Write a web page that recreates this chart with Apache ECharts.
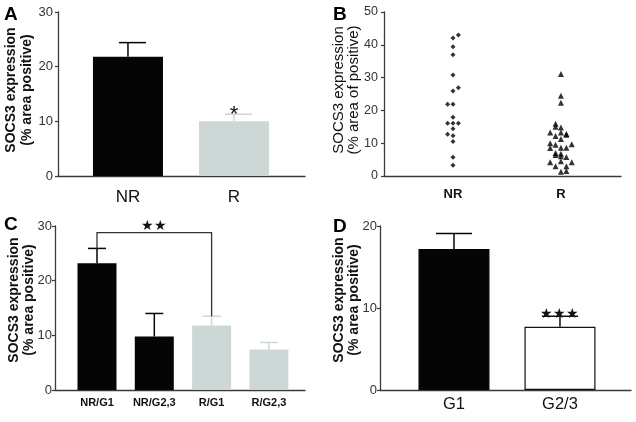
<!DOCTYPE html>
<html><head><meta charset="utf-8">
<script src="https://cdn.jsdelivr.net/npm/echarts@6/dist/echarts.min.js"></script>
<style>html,body{margin:0;padding:0;background:#fff}#c{width:636px;height:422px}</style>
</head><body><div id="c"></div>
<script>
// ---- Data ----
// Panel A
const catsA = ['NR', 'R'];
const meanA = [21.8, 10.0];
const upperA = [24.4, 11.3];
const starsA = ['', '*'];
// Panel B (individual values, jitter offsets in category units)
const catsB = ['NR', 'R'];
const nrValsB = [43.0, 42.1, 39.4, 37.0, 30.8, 26.9, 25.9, 21.9, 21.9, 17.9, 16.1, 16.1, 16.1, 14.4, 12.7, 12.3, 10.5, 5.7, 3.3];
const nrJitB  = [0.05, 0, 0, 0, 0, 0.05, 0, -0.05, 0, 0, -0.05, 0, 0.05, 0, -0.05, 0, 0, 0, 0];
const rValsB = [31.1, 24.5, 22.3, 15.9, 15.0, 14.8, 13.3, 13.3, 12.8, 12.2, 12.6, 11.3, 10.0, 9.5, 9.7, 8.5, 8.6, 8.6, 7.0, 6.4, 6.8, 5.8, 4.2, 4.5, 4.2, 3.0, 3.0, 1.3, 1.5, 6.0];
const rJitB  = [0, 0, 0, -0.05, -0.05, 0, -0.1, 0, 0.05, -0.05, 0.05, 0, -0.1, -0.05, 0.1, -0.1, 0, 0.05, -0.05, -0.05, 0, 0.05, -0.1, 0, 0.1, -0.05, 0.05, 0, 0.05, 0];
// Panel C
const catsC = ['NR/G1', 'NR/G2,3', 'R/G1', 'R/G2,3'];
const meanC = [23.2, 9.8, 11.8, 7.4];
const upperC = [25.9, 14.0, 13.5, 8.7];
const bracketC = [0, 2, 28.8, 25.9, 13.5]; // from cat 0 to cat 2, top, left foot, right foot
const bracketStarsC = '★★';
// Panel D
const catsD = ['G1', 'G2/3'];
const meanD = [17.2, 7.7];
const upperD = [19.1, 9.0];
const starsD = ['', '★★★'];
// Tick values
const ticksA = [0, 10, 20, 30];
const ticksB = [0, 10, 20, 30, 40, 50];
const ticksC = [0, 10, 20, 30];
const ticksD = [0, 10, 20];

// ---- Styles ----
const FONT = 'Liberation Sans, Arial, sans-serif';
const BLACK = '#050505';
const LIGHT = '#cdd8d6';
const AXIS = '#3a3a3a';

function idx(arr) { return arr.map((_, i) => i); }

function xAxisFor(grid, cats, min, max, fs, bold, margin) {
  return {
    type: 'value', gridIndex: grid, min: min, max: max,
    axisLine: { show: true, onZero: false, lineStyle: { color: AXIS, width: 1.3 } },
    axisTick: { show: false }, splitLine: { show: false },
    axisLabel: { customValues: idx(cats), formatter: v => cats[Math.round(v)] || '',
      fontFamily: FONT, fontSize: fs, fontWeight: bold ? 'bold' : 'normal', color: '#111', margin: margin }
  };
}
function yAxisFor(grid, ticks, name, nameFs, nameBold, lh, gap, pad, labelFs, labelMargin) {
  return {
    type: 'value', gridIndex: grid, min: ticks[0], max: ticks[ticks.length - 1], interval: ticks[1] - ticks[0],
    axisLine: { show: true, onZero: false, lineStyle: { color: AXIS, width: 1.3 } },
    axisTick: { show: true, length: 3, lineStyle: { color: AXIS, width: 1.2 } },
    splitLine: { show: false },
    axisLabel: { fontFamily: FONT, fontSize: labelFs, color: '#333', margin: labelMargin },
    name: name, nameLocation: 'middle', nameRotate: 90, nameGap: gap, nameMoveOverlap: false,
    nameTextStyle: { fontFamily: FONT, fontSize: nameFs, fontWeight: nameBold ? 'bold' : 'normal', color: '#111', lineHeight: lh, padding: pad }
  };
}

function errSeries(xi, yi, means, uppers, colors, capL, capR, stars, starFs, starDy) {
  return {
    type: 'custom', xAxisIndex: xi, yAxisIndex: yi, z: 3,
    data: means.map((m, i) => [i, m, uppers[i]]),
    encode: { x: 0, y: [1, 2] },
    renderItem: function (params, api) {
      const i = params.dataIndex;
      const x = api.value(0), m = api.value(1), u = api.value(2);
      const p0 = api.coord([x, m]), p1 = api.coord([x, u]);
      const c = colors[i];
      const ch = [
        { type: 'line', shape: { x1: p0[0], y1: p0[1], x2: p1[0], y2: p1[1] }, style: { stroke: c, lineWidth: 1.5 } },
        { type: 'line', shape: { x1: p1[0] - capL, y1: p1[1], x2: p1[0] + capR, y2: p1[1] }, style: { stroke: c, lineWidth: 1.5 } }
      ];
      if (stars && stars[i]) {
        ch.push({ type: 'text', x: p1[0], y: p1[1] + starDy,
          style: { text: stars[i], font: starFs + 'px ' + FONT, fill: '#111', align: 'center', verticalAlign: 'bottom' } });
      }
      return { type: 'group', children: ch };
    }
  };
}

function barSeries(xi, yi, means, colors, width, borders) {
  return {
    type: 'bar', xAxisIndex: xi, yAxisIndex: yi, barWidth: width, z: 2,
    data: means.map((m, i) => ({ value: [i, m], itemStyle: { color: colors[i],
      borderColor: borders ? borders[i] : colors[i], borderWidth: borders ? 1.2 : 0 } }))
  };
}

const chart = echarts.init(document.getElementById('c'), null, { renderer: 'canvas' });

const NAME1 = 'SOCS3 expression\n(% area positive)';
const NAME2 = 'SOCS3 expression\n(% area of positive)';

const option = {
  backgroundColor: '#fff',
  animation: false,
  grid: [
    { left: 58, top: 12, width: 247, height: 164 },
    { left: 384, top: 12, width: 237, height: 164 },
    { left: 55, top: 226, width: 250, height: 164 },
    { left: 380, top: 226, width: 251, height: 164 }
  ],
  xAxis: [
    xAxisFor(0, catsA, -0.660, 1.670, 17, false, 13),
    xAxisFor(1, catsB, -0.639, 1.556, 13, true, 12),
    xAxisFor(2, catsC, -0.733, 3.63, 11, true, 7),
    xAxisFor(3, catsD, -0.698, 1.670, 16.5, false, 6)
  ],
  yAxis: [
    yAxisFor(0, ticksA, NAME1, 14, true, 16, 23, [0, 0, 0, 8], 13, 5),
    yAxisFor(1, ticksB, NAME2, 15, false, 15, 22.5, [0, 0, 0, 8], 12.5, 6),
    yAxisFor(2, ticksC, NAME1, 14, true, 15, 18, [0, 0, 0, 16], 13, 3),
    yAxisFor(3, ticksD, NAME1, 14, true, 15, 18.5, [0, 0, 0, 16], 13, 3)
  ],
  graphic: [
    { type: 'text', left: 4, top: 5, style: { text: 'A', font: 'bold 19px ' + FONT, fill: '#000' } },
    { type: 'text', left: 333, top: 5, style: { text: 'B', font: 'bold 19px ' + FONT, fill: '#000' } },
    { type: 'text', left: 4, top: 215, style: { text: 'C', font: 'bold 19px ' + FONT, fill: '#000' } },
    { type: 'text', left: 333, top: 217, style: { text: 'D', font: 'bold 19px ' + FONT, fill: '#000' } }
  ],
  series: [
    // A
    barSeries(0, 0, meanA, [BLACK, LIGHT], 70),
    errSeries(0, 0, meanA, upperA, [BLACK, LIGHT], 9, 18, starsA, 22, 12),
    // B
    { type: 'scatter', xAxisIndex: 1, yAxisIndex: 1, symbol: 'diamond', symbolSize: 5,
      itemStyle: { color: '#000' }, data: nrValsB.map((v, i) => [0 + nrJitB[i], v]) },
    { type: 'scatter', xAxisIndex: 1, yAxisIndex: 1, symbol: 'triangle', symbolSize: 6,
      itemStyle: { color: '#000' }, data: rValsB.map((v, i) => [1 + rJitB[i], v]) },
    // C
    barSeries(2, 2, meanC, [BLACK, BLACK, LIGHT, LIGHT], 39),
    errSeries(2, 2, meanC, upperC, [BLACK, BLACK, LIGHT, LIGHT], 9, 9, null, 0, 0),
    {
      type: 'custom', xAxisIndex: 2, yAxisIndex: 2, z: 4,
      data: [bracketC], encode: { x: [0, 1], y: [2, 3, 4] },
      renderItem: function (params, api) {
        const x1 = api.value(0), x2 = api.value(1), yt = api.value(2), y1 = api.value(3), y2 = api.value(4);
        const a = api.coord([x1, y1]), b = api.coord([x1, yt]), c = api.coord([x2, yt]), d = api.coord([x2, y2]);
        return { type: 'group', children: [
          { type: 'polyline', shape: { points: [a, b, c, d] }, style: { stroke: '#333', lineWidth: 1.3, fill: null } },
          { type: 'text', x: (b[0] + c[0]) / 2, y: b[1] + 1,
            style: { text: bracketStarsC, font: '14px ' + FONT, fill: '#111', align: 'center', verticalAlign: 'bottom' } }
        ] };
      }
    },
    // D
    barSeries(3, 3, meanD, [BLACK, '#ffffff'], 71, [BLACK, '#111']),
    errSeries(3, 3, meanD, upperD, [BLACK, '#111'], 18, 18, starsD, 14, 5)
  ]
};
chart.setOption(option);
</script>
</body></html>
